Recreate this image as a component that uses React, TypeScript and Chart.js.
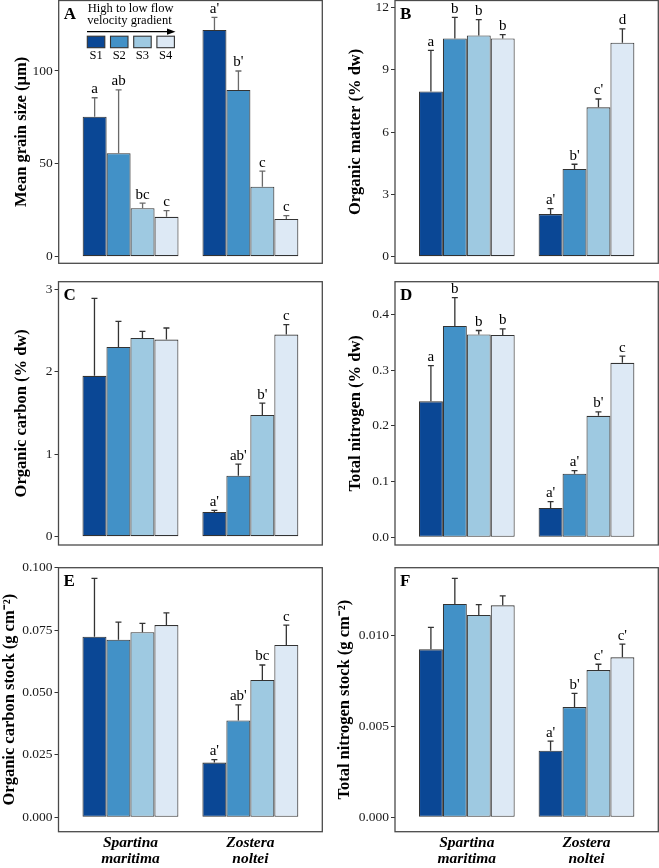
import React, { useEffect, useRef } from 'react';
import { Chart, registerables } from 'chart.js';
Chart.register(...registerables);

const SERIF = "'Liberation Serif', 'Times New Roman', serif";

const speciesLabels = [['Spartina', 'maritima'], ['Zostera', 'noltei']];
const stations = ['S1', 'S2', 'S3', 'S4'];
const stationColors = ['#0a4795', '#4291c7', '#9ec9e1', '#dde9f5'];
const legendTitle = ['High to low flow', 'velocity gradient'];

// A — Mean grain size (µm)
const grainSpartina = [75.4, 55.7, 26.1, 21.5];
const grainSpartinaSE = [10.2, 34.1, 2.7, 3.3];
const grainZostera = [122.1, 89.8, 37.7, 20.3];
const grainZosteraSE = [6.8, 10.2, 8.4, 1.8];
const grainSpartinaLetters = ['a', 'ab', 'bc', 'c'];
const grainZosteraLetters = ["a'", "b'", 'c', 'c'];
const grainTicks = [0, 50, 100];

// B — Organic matter (% dw)
const omSpartina = [7.95, 10.5, 10.65, 10.5];
const omSpartinaSE = [1.98, 1.02, 0.76, 0.19];
const omZostera = [2.05, 4.22, 7.19, 10.3];
const omZosteraSE = [0.26, 0.23, 0.4, 0.66];
const omSpartinaLetters = ['a', 'b', 'b', 'b'];
const omZosteraLetters = ["a'", "b'", "c'", 'd'];
const omTicks = [0, 3, 6, 9, 12];

// C — Organic carbon (% dw)
const ocSpartina = [1.95, 2.3, 2.41, 2.39];
const ocSpartinaSE = [0.94, 0.31, 0.08, 0.14];
const ocZostera = [0.3, 0.74, 1.475, 2.45];
const ocZosteraSE = [0.02, 0.14, 0.145, 0.12];
const ocSpartinaLetters = ['', '', '', ''];
const ocZosteraLetters = ["a'", "ab'", "b'", 'c'];
const ocTicks = [0, 1, 2, 3];

// D — Total nitrogen (% dw)
const tnSpartina = [0.244, 0.379, 0.364, 0.363];
const tnSpartinaSE = [0.064, 0.051, 0.007, 0.011];
const tnZostera = [0.0526, 0.114, 0.218, 0.313];
const tnZosteraSE = [0.0114, 0.0055, 0.007, 0.012];
const tnSpartinaLetters = ['a', 'b', 'b', 'b'];
const tnZosteraLetters = ["a'", "a'", "b'", 'c'];
const tnTicks = [0, 0.1, 0.2, 0.3, 0.4];

// E — Organic carbon stock (g cm-2)
const ocsSpartina = [0.0723, 0.0711, 0.0741, 0.077];
const ocsSpartinaSE = [0.0234, 0.0071, 0.0036, 0.0049];
const ocsZostera = [0.0219, 0.0388, 0.055, 0.069];
const ocsZosteraSE = [0.0012, 0.0062, 0.006, 0.008];
const ocsSpartinaLetters = ['', '', '', ''];
const ocsZosteraLetters = ["a'", "ab'", 'bc', 'c'];
const ocsTicks = [0, 0.025, 0.05, 0.075, 0.1];

// F — Total nitrogen stock (g cm-2)
const tnsSpartina = [0.00925, 0.01175, 0.01114, 0.01167];
const tnsSpartinaSE = [0.00121, 0.00141, 0.00057, 0.00052];
const tnsZostera = [0.00367, 0.00607, 0.00811, 0.00881];
const tnsZosteraSE = [0.00053, 0.00076, 0.00032, 0.00073];
const tnsSpartinaLetters = ['', '', '', ''];
const tnsZosteraLetters = ["a'", "b'", "c'", "c'"];
const tnsTicks = [0, 0.005, 0.01];

type PanelCfg = {
  letter: string; title: string;
  sp: number[]; spSE: number[]; zo: number[]; zoSE: number[];
  spL: string[]; zoL: string[]; ticks: number[]; decimals: number;
  min: number; max: number;
  left: number; top: number; width: number; height: number;
  pad: { top: number; right: number; bottom: number; left: number };
  axisWidth: number; titleX: number; showX: boolean; xHeight: number;
  legend?: boolean; errColor: string;
};

const panels: PanelCfg[] = [
  { letter: 'A', title: 'Mean grain size (µm)', sp: grainSpartina, spSE: grainSpartinaSE, zo: grainZostera, zoSE: grainZosteraSE,
    spL: grainSpartinaLetters, zoL: grainZosteraLetters, ticks: grainTicks, decimals: 0, min: -3.55, max: 137.96,
    left: 0, top: 0, width: 330, height: 272, pad: { top: 0.5, right: 7.7, bottom: 8.7, left: 0 },
    axisWidth: 58.7, titleX: 22, showX: false, xHeight: 0, legend: true, errColor: '#6a6a6a' },
  { letter: 'B', title: 'Organic matter (% dw)', sp: omSpartina, spSE: omSpartinaSE, zo: omZostera, zoSE: omZosteraSE,
    spL: omSpartinaLetters, zoL: omZosteraLetters, ticks: omTicks, decimals: 0, min: -0.318, max: 12.33,
    left: 330, top: 0, width: 329, height: 272, pad: { top: 0.5, right: 0.7, bottom: 8.7, left: 0 },
    axisWidth: 65, titleX: 25.5, showX: false, xHeight: 0, errColor: '#333' },
  { letter: 'C', title: 'Organic carbon (% dw)', sp: ocSpartina, spSE: ocSpartinaSE, zo: ocZostera, zoSE: ocZosteraSE,
    spL: ocSpartinaLetters, zoL: ocZosteraLetters, ticks: ocTicks, decimals: 0, min: -0.1006, max: 3.091,
    left: 0, top: 272, width: 330, height: 284, pad: { top: 9.7, right: 7.7, bottom: 11, left: 0 },
    axisWidth: 58.5, titleX: 22, showX: false, xHeight: 0, errColor: '#333' },
  { letter: 'D', title: 'Total nitrogen (% dw)', sp: tnSpartina, spSE: tnSpartinaSE, zo: tnZostera, zoSE: tnZosteraSE,
    spL: tnSpartinaLetters, zoL: tnZosteraLetters, ticks: tnTicks, decimals: 1, min: -0.0138, max: 0.4585,
    left: 330, top: 272, width: 329, height: 284, pad: { top: 9.7, right: 0.7, bottom: 11, left: 0 },
    axisWidth: 65, titleX: 25.5, showX: false, xHeight: 0, errColor: '#333' },
  { letter: 'E', title: 'Organic carbon stock (g cm⁻²)', sp: ocsSpartina, spSE: ocsSpartinaSE, zo: ocsZostera, zoSE: ocsZosteraSE,
    spL: ocsSpartinaLetters, zoL: ocsZosteraLetters, ticks: ocsTicks, decimals: 3, min: -0.00577, max: 0.09996,
    left: 0, top: 556, width: 330, height: 312, pad: { top: 11.7, right: 7.7, bottom: 0, left: 0 },
    axisWidth: 58.5, titleX: 10, showX: true, xHeight: 36.3, errColor: '#333' },
  { letter: 'F', title: 'Total nitrogen stock (g cm⁻²)', sp: tnsSpartina, spSE: tnsSpartinaSE, zo: tnsZostera, zoSE: tnsZosteraSE,
    spL: tnsSpartinaLetters, zoL: tnsZosteraLetters, ticks: tnsTicks, decimals: 3, min: -0.00079, max: 0.013744,
    left: 330, top: 556, width: 329, height: 312, pad: { top: 11.7, right: 0.7, bottom: 0, left: 0 },
    axisWidth: 65, titleX: 14.5, showX: true, xHeight: 36.3, errColor: '#333' },
];

function makePlugins(cfg: PanelCfg) {
  const frame = {
    id: 'frame',
    afterDraw(chart: any) {
      const { ctx, chartArea: a } = chart;
      ctx.save();
      ctx.strokeStyle = '#4a4a4a';
      ctx.lineWidth = 1.3;
      ctx.strokeRect(a.left, a.top, a.right - a.left, a.bottom - a.top);
      ctx.fillStyle = '#000';
      ctx.font = `bold 17px ${SERIF}`;
      ctx.textAlign = 'left';
      ctx.textBaseline = 'alphabetic';
      ctx.fillText(cfg.letter, a.left + 5, a.top + 18);
      ctx.restore();
    },
  };
  const errs = {
    id: 'errs',
    afterDatasetsDraw(chart: any) {
      const { ctx } = chart;
      const y = chart.scales.y;
      ctx.save();
      for (let i = 0; i < 4; i++) {
        const meta = chart.getDatasetMeta(i);
        for (let j = 0; j < 2; j++) {
          const bar = meta.data[j];
          const mean = j === 0 ? cfg.sp[i] : cfg.zo[i];
          const se = j === 0 ? cfg.spSE[i] : cfg.zoSE[i];
          const lab = j === 0 ? cfg.spL[i] : cfg.zoL[i];
          const yb = y.getPixelForValue(mean);
          const yt = y.getPixelForValue(mean + se);
          ctx.strokeStyle = cfg.errColor;
          ctx.lineWidth = 1.3;
          ctx.beginPath();
          ctx.moveTo(bar.x, yb);
          ctx.lineTo(bar.x, yt);
          ctx.moveTo(bar.x - 3, yt);
          ctx.lineTo(bar.x + 3, yt);
          ctx.stroke();
          if (lab) {
            ctx.fillStyle = '#000';
            ctx.font = `15px ${SERIF}`;
            ctx.textAlign = 'center';
            ctx.textBaseline = 'alphabetic';
            ctx.fillText(lab, bar.x, yt - 4.5);
          }
        }
      }
      ctx.restore();
    },
  };
  const legend = {
    id: 'flowLegend',
    afterDraw(chart: any) {
      if (!cfg.legend) return;
      const { ctx } = chart;
      ctx.save();
      ctx.fillStyle = '#000';
      ctx.font = `12.5px ${SERIF}`;
      ctx.textAlign = 'left';
      ctx.textBaseline = 'alphabetic';
      ctx.fillText(legendTitle[0], 87.8, 12.3);
      ctx.fillText(legendTitle[1], 87.3, 23.8);
      ctx.strokeStyle = '#000';
      ctx.lineWidth = 1.2;
      ctx.beginPath();
      ctx.moveTo(87, 31.7);
      ctx.lineTo(170, 31.7);
      ctx.stroke();
      ctx.beginPath();
      ctx.moveTo(175.5, 31.7);
      ctx.lineTo(167, 28.6);
      ctx.lineTo(167, 34.8);
      ctx.closePath();
      ctx.fill();
      for (let i = 0; i < 4; i++) {
        const x = 87.3 + i * 23.2;
        ctx.fillStyle = stationColors[i];
        ctx.fillRect(x, 36.2, 17.5, 11.5);
        ctx.strokeStyle = '#333';
        ctx.lineWidth = 1.1;
        ctx.strokeRect(x, 36.2, 17.5, 11.5);
        ctx.fillStyle = '#000';
        ctx.textAlign = 'center';
        ctx.fillText(stations[i], x + 8.75, 59.3);
      }
      ctx.restore();
    },
  };
  return [frame, errs, legend];
}

function Panel({ cfg }: { cfg: PanelCfg }) {
  const ref = useRef<HTMLCanvasElement>(null);
  useEffect(() => {
    const chart = new Chart(ref.current as HTMLCanvasElement, {
      type: 'bar',
      data: {
        datasets: stations.map((s, i) => ({
          label: s,
          data: [{ x: 1, y: cfg.sp[i] }, { x: 2, y: cfg.zo[i] }],
          backgroundColor: stationColors[i],
          borderColor: '#333',
          borderWidth: 1.1,
          borderSkipped: false,
          categoryPercentage: 0.8,
          barPercentage: 1,
        })) as any,
      },
      options: {
        responsive: false,
        animation: false,
        events: [],
        layout: { autoPadding: false, padding: cfg.pad } as any,
        plugins: { legend: { display: false }, tooltip: { enabled: false } },
        scales: {
          x: {
            type: 'linear',
            min: 0.4,
            max: 2.6,
            offset: false,
            display: cfg.showX,
            afterBuildTicks: (s: any) => { s.ticks = [{ value: 1 }, { value: 2 }]; },
            afterFit: (s: any) => { s.height = cfg.xHeight; s.paddingLeft = 0; s.paddingRight = 0; },
            grid: { display: false, drawTicks: false },
            border: { display: false },
            ticks: {
              autoSkip: false,
              maxRotation: 0,
              padding: 3,
              color: '#000',
              font: { family: SERIF, size: 15.5, weight: 'bold', style: 'italic', lineHeight: 1.06 },
              callback: (v: any) => speciesLabels[Math.round(Number(v)) - 1] as any,
            },
          },
          y: {
            type: 'linear',
            min: cfg.min,
            max: cfg.max,
            afterBuildTicks: (s: any) => { s.ticks = cfg.ticks.map((v) => ({ value: v })); },
            afterFit: (s: any) => { s.width = cfg.axisWidth; s.paddingTop = 0; s.paddingBottom = 0; },
            grid: { display: true, drawOnChartArea: false, drawTicks: true, tickLength: 4, color: '#333', lineWidth: 1 },
            border: { display: false },
            ticks: {
              autoSkip: false,
              padding: 2,
              color: '#1a1a1a',
              font: { family: SERIF, size: 13.5 },
              callback: (v: any) => Number(v).toFixed(cfg.decimals),
            },
            title: {
              display: true,
              text: cfg.title,
              color: '#000',
              font: { family: SERIF, size: 16.5, weight: 'bold', lineHeight: 1.2 },
              padding: { top: cfg.titleX - 9.9, bottom: 0 },
            },
          },
        },
      } as any,
      plugins: makePlugins(cfg) as any,
    });
    return () => chart.destroy();
  }, [cfg]);
  return (
    <canvas
      ref={ref}
      width={cfg.width}
      height={cfg.height}
      style={{ position: 'absolute', left: cfg.left, top: cfg.top, width: cfg.width, height: cfg.height, display: 'block' }}
    />
  );
}

export default function App() {
  return (
    <div style={{ position: 'absolute', left: 0, top: 0, width: 659, height: 868, background: '#fff', overflow: 'hidden' }}>
      {panels.map((p) => <Panel key={p.letter} cfg={p} />)}
    </div>
  );
}
